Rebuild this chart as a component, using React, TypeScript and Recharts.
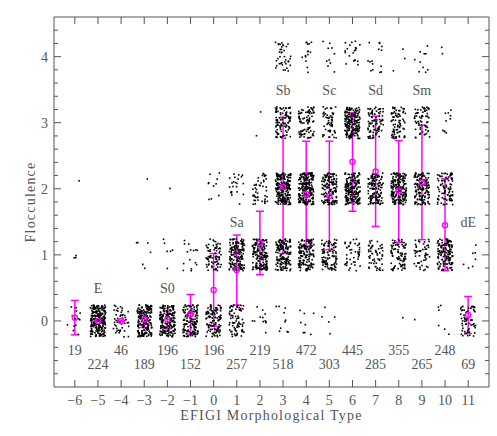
import { ScatterChart, Scatter, XAxis, YAxis, ErrorBar, ReferenceArea } from 'recharts';

// EFIGI morphological types on the x axis
const types = [-6, -5, -4, -3, -2, -1, 0, 1, 2, 3, 4, 5, 6, 7, 8, 9, 10, 11];
// number of galaxies per type (printed under the points)
const counts = [19, 224, 46, 189, 196, 152, 196, 257, 219, 518, 472, 303, 445, 285, 355, 265, 248, 69];

// how many galaxies sit at each flocculence level, per type (read from the dot clouds)
const level0 = [15, 224, 46, 182, 189, 137, 110, 75, 12, 10, 8, 5, 0, 0, 1, 1, 6, 62];
const level1 = [3, 0, 0, 6, 6, 15, 76, 160, 160, 150, 150, 100, 45, 55, 85, 50, 140, 7];
const level2 = [1, 0, 0, 1, 1, 0, 10, 22, 45, 220, 210, 130, 190, 130, 185, 140, 90, 0];
const level3 = [0, 0, 0, 0, 0, 0, 0, 0, 2, 100, 85, 55, 190, 85, 80, 65, 10, 0];
const level4 = [0, 0, 0, 0, 0, 0, 0, 0, 0, 38, 15, 10, 20, 15, 3, 10, 2, 0];

// mean flocculence and the ends of the magenta bars
const means = [0.05, 0.0, 0.0, 0.02, 0.02, 0.1, 0.47, 0.77, 1.18, 2.03, 1.92, 1.89, 2.41, 2.26, 1.97, 2.1, 1.45, 0.09];
const lower = [-0.21, -0.01, -0.01, -0.1, -0.12, -0.2, -0.08, 0.24, 0.7, 1.02, 1.13, 1.08, 1.66, 1.43, 1.19, 1.23, 0.76, -0.19];
const upper = [0.31, 0.01, 0.01, 0.12, 0.15, 0.4, 1.02, 1.3, 1.66, 3.08, 2.72, 2.72, 3.15, 3.1, 2.73, 2.96, 2.15, 0.37];

// class names written over the clouds
const classNames = ['E', 'S0', 'Sa', 'Sb', 'Sc', 'Sd', 'Sm', 'dE'];
const classTypes = [-5, -2, 1, 3, 5, 7, 9, 11];
const classLevels = [0.5, 0.5, 1.5, 3.5, 3.5, 3.5, 3.5, 1.5];

const yMajor = [0, 1, 2, 3, 4];

const W = 497;
const H = 436;
const LEFT = 54;
const RIGHT = 489;
const TOP = 17;
const BOTTOM = 387;
const X_DOMAIN: [number, number] = [-6.9, 11.9];
const Y_DOMAIN: [number, number] = [-1, 4.6];
const AXIS = '#555';
const TXT = '#555';
const FONT = '"Liberation Serif", "DejaVu Serif", serif';
const MAGENTA = '#ff00ff';

// fixed jitter, so the clouds look the same on every render
const jit = (i: number, k: number) => {
  const s = Math.sin(i * 12.9898 + k * 78.233) * 43758.5453;
  return s - Math.floor(s);
};

const levels = [level0, level1, level2, level3, level4];
const dots: { x: number; y: number }[] = [];
let n = 0;
levels.forEach((lv, L) => {
  lv.forEach((c, t) => {
    for (let j = 0; j < c; j++) {
      n++;
      dots.push({
        x: types[t] + (jit(n, 1) - 0.5) * 0.66,
        y: L + (jit(n, 2) - 0.5) * 0.48,
      });
    }
  });
});

const meanData = types.map((t, i) => ({
  x: t,
  y: means[i],
  err: [means[i] - lower[i], upper[i] - means[i]],
}));

const countData = types.map((t, i) => ({
  x: t,
  y: i % 2 === 0 ? -0.44 : -0.65,
  label: String(counts[i]),
}));

const nameData = classNames.map((name, i) => ({
  x: classTypes[i],
  y: classLevels[i],
  label: name,
}));

const yTicks: number[] = [];
for (let v = -8; v <= 44; v += 2) yTicks.push(v / 10);

const fmt = (v: number) => (v < 0 ? '\u2212' + Math.abs(v) : String(v));

const YTick = (props: any) => {
  const { y, payload } = props;
  const v = payload.value;
  const major = Math.abs(v - Math.round(v)) < 1e-6;
  const len = major ? 7 : 4;
  return (
    <g>
      <line x1={LEFT} x2={LEFT + len} y1={y} y2={y} stroke={AXIS} />
      <line x1={RIGHT} x2={RIGHT - len} y1={y} y2={y} stroke={AXIS} />
      {major && yMajor.includes(Math.round(v)) && (
        <text x={48} y={y + 5} textAnchor="end" fontSize={14} fill={TXT} fontFamily={FONT}>
          {fmt(Math.round(v))}
        </text>
      )}
    </g>
  );
};

const XTick = (props: any) => {
  const { x, payload } = props;
  return (
    <g>
      <line x1={x} x2={x} y1={BOTTOM} y2={BOTTOM - 7} stroke={AXIS} />
      <line x1={x} x2={x} y1={TOP} y2={TOP + 7} stroke={AXIS} />
      <text x={x} y={405} textAnchor="middle" fontSize={14} fill={TXT} fontFamily={FONT}>
        {fmt(payload.value)}
      </text>
    </g>
  );
};

const Dot = (props: any) => (
  <rect x={props.cx - 0.8} y={props.cy - 0.8} width={1.6} height={1.6} fill="#000" />
);

const MeanMark = (props: any) => (
  <circle cx={props.cx} cy={props.cy} r={2.6} fill="none" stroke={MAGENTA} strokeWidth={1.3} />
);

const TextMark = (props: any) => (
  <text
    x={props.cx}
    y={props.cy + 5}
    textAnchor="middle"
    fontSize={14}
    fill={TXT}
    fontFamily={FONT}
  >
    {props.payload.label}
  </text>
);

export default function App() {
  return (
    <div style={{ position: 'absolute', left: 0, top: 0, width: W, height: H, background: '#fff' }}>
      <ScatterChart width={W} height={H} margin={{ top: TOP, right: W - RIGHT, bottom: 0, left: 0 }}>
        <XAxis
          type="number"
          dataKey="x"
          domain={X_DOMAIN}
          ticks={types}
          allowDataOverflow
          height={H - BOTTOM}
          axisLine={false}
          tickLine={false}
          tick={<XTick />}
          interval={0}
        />
        <YAxis
          type="number"
          dataKey="y"
          domain={Y_DOMAIN}
          ticks={yTicks}
          allowDataOverflow
          width={LEFT}
          axisLine={false}
          tickLine={false}
          tick={<YTick />}
          interval={0}
        />
        <ReferenceArea
          x1={X_DOMAIN[0]}
          x2={X_DOMAIN[1]}
          y1={Y_DOMAIN[0]}
          y2={Y_DOMAIN[1]}
          fill="none"
          stroke={AXIS}
          strokeWidth={1}
          fillOpacity={0}
        />
        <Scatter data={dots} shape={<Dot />} isAnimationActive={false} />
        <Scatter data={countData} shape={<TextMark />} isAnimationActive={false} />
        <Scatter data={nameData} shape={<TextMark />} isAnimationActive={false} />
        <Scatter data={meanData} shape={<MeanMark />} isAnimationActive={false}>
          <ErrorBar dataKey="err" direction="y" width={4} stroke={MAGENTA} strokeWidth={1.5} />
        </Scatter>
      </ScatterChart>
      <div
        style={{
          position: 'absolute',
          left: LEFT,
          width: RIGHT - LEFT,
          top: 408,
          textAlign: 'center',
          fontFamily: FONT,
          fontSize: 14,
          letterSpacing: 1.2,
          color: TXT,
        }}
      >
        EFIGI Morphological Type
      </div>
      <div
        style={{
          position: 'absolute',
          left: 31,
          top: (TOP + BOTTOM) / 2,
          transform: 'translate(-50%, -50%) rotate(-90deg)',
          fontFamily: FONT,
          fontSize: 14,
          letterSpacing: 1.2,
          color: TXT,
          whiteSpace: 'nowrap',
        }}
      >
        Flocculence
      </div>
    </div>
  );
}
